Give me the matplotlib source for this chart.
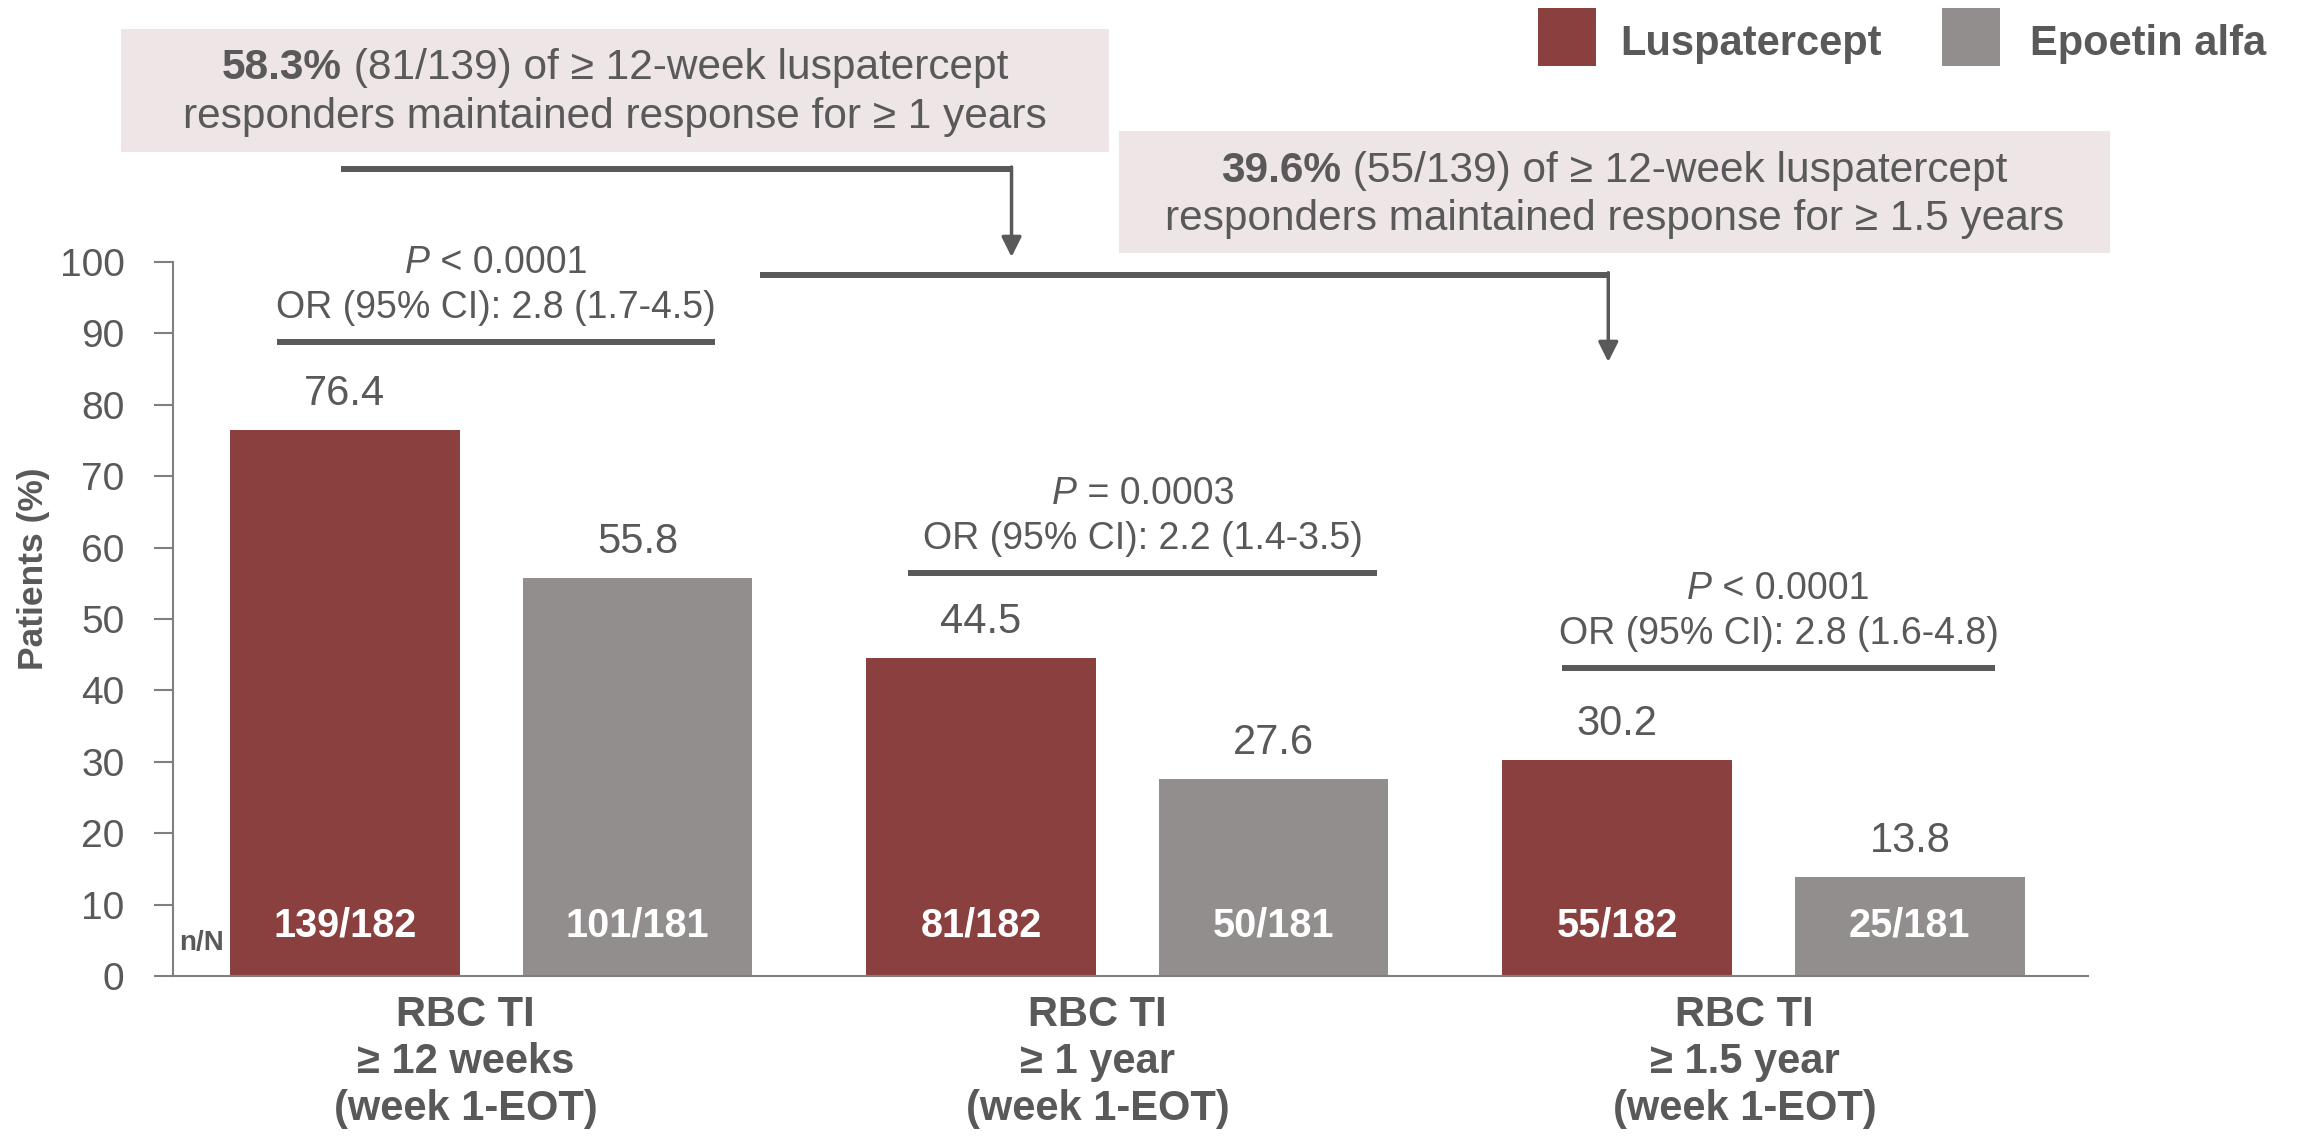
import numpy as np
import matplotlib
matplotlib.use("Agg")
import matplotlib.pyplot as plt
from matplotlib.patches import Rectangle

plt.rcParams['font.family'] = ['Liberation Sans', 'DejaVu Sans']

# ---------------- data ----------------
categories = ["RBC TI\n≥ 12 weeks\n(week 1-EOT)",
              "RBC TI\n≥ 1 year\n(week 1-EOT)",
              "RBC TI\n≥ 1.5 year\n(week 1-EOT)"]
series_names = ["Luspatercept", "Epoetin alfa"]
lusp_pct = [76.4, 44.5, 30.2]
epo_pct = [55.8, 27.6, 13.8]
lusp_nN = ["139/182", "81/182", "55/182"]
epo_nN = ["101/181", "50/181", "25/181"]
p_rel = ["< 0.0001", "= 0.0003", "< 0.0001"]
or_texts = ["OR (95% CI): 2.8 (1.7-4.5)",
            "OR (95% CI): 2.2 (1.4-3.5)",
            "OR (95% CI): 2.8 (1.6-4.8)"]
box1_bold = "58.3%"
box1_lines = [" (81/139) of ≥ 12-week luspatercept",
              "responders maintained response for ≥ 1 years"]
box2_bold = "39.6%"
box2_lines = [" (55/139) of ≥ 12-week luspatercept",
              "responders maintained response for ≥ 1.5 years"]

# ---------------- style ----------------
TXT = '#595959'
C_LUSP = '#8B4040'
C_EPO = '#918E8D'
BOX_FILL = '#EDE5E6'
AX_GRAY = '#7F7F7F'

fig = plt.figure(figsize=(22.98, 11.41), dpi=100)
ax = fig.add_axes([0.0753, 0.1446, 0.9086 - 0.0753, 0.7704 - 0.1446])
rend = fig.canvas.get_renderer()


def text_w(s, size, wt, st):
    # width incl. spaces: measure between two bars
    def w(txt):
        t = fig.text(0, 0, txt, fontsize=size, fontweight=wt, fontstyle=st)
        bw_ = t.get_window_extent(rend).width
        t.remove()
        return bw_
    return w("|" + s + "|") - w("||")


def rich_line(x, y, pieces, size, coords):
    # pieces: (text, weight, style), centred on x
    widths = [text_w(s, size, wt, st) for s, wt, st in pieces]
    dx = -sum(widths) / 2
    for (s, wt, st), wd in zip(pieces, widths):
        ax.annotate(s, xy=(x, y), xycoords=coords, xytext=(dx, 0), textcoords='offset pixels',
                    ha='left', va='baseline', fontsize=size, fontweight=wt, fontstyle=st,
                    color=TXT, annotation_clip=False)
        dx += wd


x = np.arange(len(categories))
bw = 0.361
off = 0.230

ax.bar(x - off, lusp_pct, bw, color=C_LUSP, zorder=2)
ax.bar(x + off, epo_pct, bw, color=C_EPO, zorder=2)

# value labels above bars
for xi, v in zip(x - off, lusp_pct):
    ax.text(xi, v + 3.5, f"{v:.1f}", ha='center', va='baseline', fontsize=30, color=TXT)
for xi, v in zip(x + off, epo_pct):
    ax.text(xi, v + 3.5, f"{v:.1f}", ha='center', va='baseline', fontsize=30, color=TXT)

# n/N inside bars
for xi, s in zip(x - off, lusp_nN):
    ax.text(xi, 5.6, s, ha='center', va='baseline', fontsize=28.5, color='white', fontweight='bold')
for xi, s in zip(x + off, epo_nN):
    ax.text(xi, 5.6, s, ha='center', va='baseline', fontsize=28.5, color='white', fontweight='bold')
ax.text(-0.49, 3.6, "n/N", ha='left', va='baseline', fontsize=20, color=TXT, fontweight='bold')

# significance brackets
br_y = [88.8, 56.4, 43.1]
br_l = [-0.336, -0.344, -0.317]
br_r = [0.352, 0.393, 0.364]
for i in range(len(categories)):
    x0, x1 = i + br_l[i], i + br_r[i]
    ax.plot([x0, x1], [br_y[i], br_y[i]], color=TXT, lw=4.3, solid_capstyle='butt', clip_on=False)
    xm = (x0 + x1) / 2
    rich_line(xm, br_y[i] + 9.7, [("P", 'normal', 'italic'), (" " + p_rel[i], 'normal', 'normal')],
              27, 'data')
    ax.text(xm, br_y[i] + 3.4, or_texts[i], ha='center', va='baseline', fontsize=27, color=TXT)

# connectors from boxes
conns = [(-0.236, 0.818, 113.0, 100.7), (0.423, 1.756, 98.2, 86.0)]
for xs, xe, yh, ytip in conns:
    ax.plot([xs, xe], [yh, yh], color=TXT, lw=4.3, solid_capstyle='butt', clip_on=False)
    ax.annotate('', xy=(xe, ytip), xytext=(xe, yh + 0.3), annotation_clip=False,
                arrowprops=dict(arrowstyle='-|>,head_length=1.2,head_width=0.6', lw=2.5,
                                color=TXT, shrinkA=0, shrinkB=0))

# axes styling
ax.set_ylim(0, 100)
ax.set_xlim(-0.5, 2.51)
ax.set_yticks(np.arange(0, 101, 10))
ax.tick_params(axis='y', length=14, width=1.5, color=AX_GRAY, pad=21, labelsize=28, labelcolor=TXT)
ax.set_xticks(x + np.array([-0.04, -0.047, -0.03]))
ax.set_xticklabels(categories, fontsize=30, fontweight='bold', color=TXT, linespacing=1.22)
ax.tick_params(axis='x', length=0, pad=14)
for s in ['top', 'right']:
    ax.spines[s].set_visible(False)
for s in ['left', 'bottom']:
    ax.spines[s].set_color(AX_GRAY)
    ax.spines[s].set_linewidth(1.5)
ax.set_ylabel("Patients (%)", fontsize=25.5, fontweight='bold', color=TXT, va='center')
ax.yaxis.set_label_coords(-0.0730, 0.571)

# annotation boxes (behind the text)
fig.add_artist(Rectangle((0.0527, 0.8668), 0.430, 0.1078, transform=fig.transFigure,
                         facecolor=BOX_FILL, edgecolor='none', zorder=-1))
fig.add_artist(Rectangle((0.4869, 0.7783), 0.4312, 0.1069, transform=fig.transFigure,
                         facecolor=BOX_FILL, edgecolor='none', zorder=-1))
rich_line(0.2676, 0.9308, [(box1_bold, 'bold', 'normal'), (box1_lines[0], 'normal', 'normal')],
          30.5, 'figure fraction')
fig.text(0.2676, 0.8878, box1_lines[1], ha='center', va='baseline', fontsize=30.5, color=TXT)
rich_line(0.7026, 0.8405, [(box2_bold, 'bold', 'normal'), (box2_lines[0], 'normal', 'normal')],
          30.5, 'figure fraction')
fig.text(0.7026, 0.7984, box2_lines[1], ha='center', va='baseline', fontsize=30.5, color=TXT)

# legend
for (sx, tx), name, col in zip([(0.6693, 0.705), (0.8451, 0.8834)], series_names, [C_LUSP, C_EPO]):
    fig.add_artist(Rectangle((sx, 0.9422), 0.02524, 0.0508, transform=fig.transFigure,
                             facecolor=col, edgecolor='none'))
    fig.text(tx, 0.9518, name, ha='left', va='baseline', fontsize=30, fontweight='bold', color=TXT)

fig.savefig("out.png", dpi=100)
